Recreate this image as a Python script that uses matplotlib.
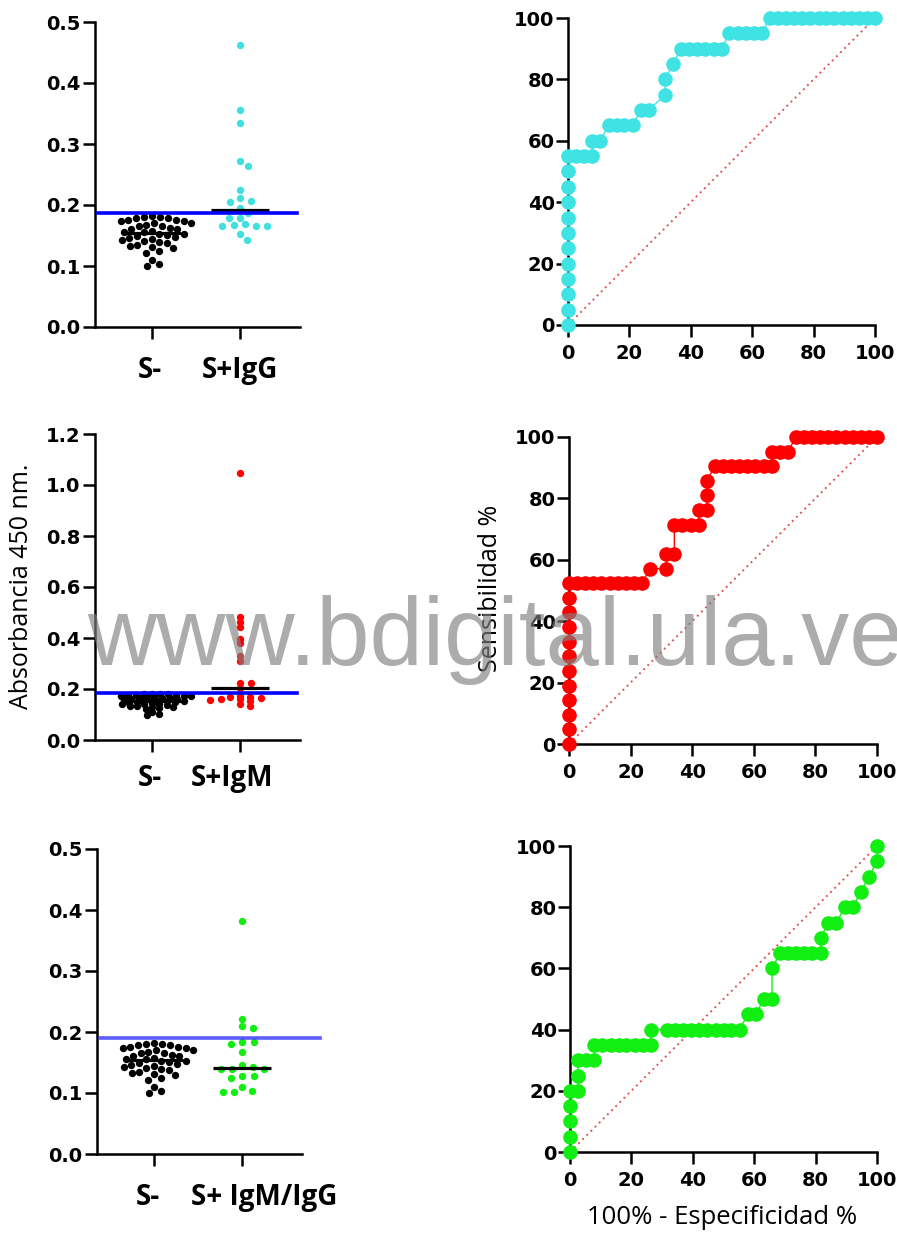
import numpy as np
import matplotlib
matplotlib.use('Agg')
import matplotlib.pyplot as plt

# ---------------- data ----------------
neg_values = [0.100, 0.103, 0.110, 0.122, 0.125, 0.130, 0.131, 0.133, 0.135, 0.138,
              0.140, 0.141, 0.143, 0.145, 0.146, 0.148, 0.150, 0.151, 0.152, 0.153,
              0.155, 0.156, 0.158, 0.160, 0.161, 0.163, 0.165, 0.166, 0.168, 0.170,
              0.171, 0.173, 0.174, 0.175, 0.176, 0.178, 0.179, 0.180, 0.181, 0.182]
igg_values = [0.463, 0.356, 0.334, 0.272, 0.264, 0.225, 0.211, 0.205, 0.207, 0.195,
              0.187, 0.179, 0.178, 0.166, 0.169, 0.166, 0.167, 0.166, 0.152, 0.143]
igm_values = [1.046, 0.484, 0.461, 0.444, 0.396, 0.382, 0.331, 0.310, 0.225, 0.222,
              0.203, 0.172, 0.167, 0.167, 0.163, 0.160, 0.160, 0.157, 0.154, 0.140, 0.135]
igmg_values = [0.382, 0.222, 0.210, 0.207, 0.184, 0.181, 0.184, 0.168, 0.146, 0.143,
               0.139, 0.140, 0.140, 0.125, 0.128, 0.128, 0.110, 0.101, 0.102, 0.104]
cutoffs = [0.187, 0.186, 0.190]
cat_labels = [['S-', 'S+IgG'], ['S-', 'S+IgM'], ['S-', 'S+ IgM/IgG']]

roc1_x = [0] * 12 + [2.6, 5.3, 7.9, 7.9, 10.5, 13.2, 15.8, 18.4, 21.1, 23.7, 26.3,
                     31.6, 31.6, 34.2, 36.8, 39.5, 42.1, 44.7, 47.4, 50.0,
                     52.6, 55.3, 57.9, 60.5, 63.2,
                     65.8, 68.4, 71.1, 73.7, 76.3, 78.9, 81.6, 84.2, 86.8, 89.5, 92.1, 94.7, 97.4, 100]
roc1_y = [0, 5, 10, 15, 20, 25, 30, 35, 40, 45, 50, 55,
          55, 55, 55, 60, 60, 65, 65, 65, 65, 70, 70,
          75, 80, 85, 90, 90, 90, 90, 90, 90,
          95, 95, 95, 95, 95,
          100, 100, 100, 100, 100, 100, 100, 100, 100, 100, 100, 100, 100, 100]

roc2_x = [0] * 12 + [2.6, 5.3, 7.9, 10.5, 13.2, 15.8, 18.4, 21.1, 23.7,
                     26.3, 31.6, 31.6, 34.2, 34.2, 36.8, 39.5, 42.1,
                     42.1, 44.7, 44.7, 44.7,
                     47.4, 50.0, 52.6, 55.3, 57.9, 60.5, 63.2, 65.8,
                     65.8, 68.4, 71.1,
                     73.7, 76.3, 78.9, 81.6, 84.2, 86.8, 89.5, 92.1, 94.7, 97.4, 100]
roc2_y = [0, 4.76, 9.52, 14.29, 19.05, 23.81, 28.57, 33.33, 38.10, 42.86, 47.62, 52.38,
          52.38, 52.38, 52.38, 52.38, 52.38, 52.38, 52.38, 52.38, 52.38,
          57.14, 57.14, 61.90, 61.90, 71.43, 71.43, 71.43, 71.43,
          76.19, 76.19, 80.95, 85.71,
          90.48, 90.48, 90.48, 90.48, 90.48, 90.48, 90.48, 90.48,
          95.24, 95.24, 95.24,
          100, 100, 100, 100, 100, 100, 100, 100, 100, 100, 100]

roc3_x = [0, 0, 0, 0, 0, 2.6, 2.6, 2.6, 5.3, 7.9, 7.9, 10.5, 13.2, 15.8, 18.4, 21.1, 23.7, 26.3,
          26.3, 31.6, 34.2, 36.8, 39.5, 42.1, 44.7, 47.4, 50.0, 52.6, 55.3,
          57.9, 60.5, 63.2, 65.8, 65.8,
          68.4, 71.1, 73.7, 76.3, 78.9, 81.6, 81.6, 84.2, 86.8, 89.5, 92.1, 94.7, 97.4, 100, 100]
roc3_y = [0, 5, 10, 15, 20, 20, 25, 30, 30, 30, 35, 35, 35, 35, 35, 35, 35, 35,
          40, 40, 40, 40, 40, 40, 40, 40, 40, 40, 40,
          45, 45, 50, 50, 60,
          65, 65, 65, 65, 65, 65, 70, 75, 75, 80, 80, 85, 90, 95, 100]

# ---------------- style ----------------
plt.rcParams['font.family'] = ['DejaVu Sans']
W, H = 897, 1233
fig = plt.figure(figsize=(W / 100, H / 100), dpi=100)

SPINE_W = 1.8
TICK_L = 8.6


def swarm(vals, ppu_x, dx_px, dy_data):
    vals = np.asarray(vals, float)
    order = np.argsort(vals)[::-1]
    placed = []
    offs = np.zeros(len(vals))
    for i in order:
        y = vals[i]
        cands = [0.0]
        for (px, py) in placed:
            r = (y - py) / dy_data
            if abs(r) < 1:
                d = dx_px * np.sqrt(1 - r * r)
                cands += [px + d, px - d]
        cands = sorted(cands, key=lambda c: (abs(c), -c))
        chosen = 0.0
        for c in cands:
            ok = True
            for (px, py) in placed:
                if ((c - px) / dx_px) ** 2 + ((y - py) / dy_data) ** 2 < 1 - 1e-6:
                    ok = False
                    break
            if ok:
                chosen = c
                break
        placed.append((chosen, y))
        offs[i] = chosen
    return offs / ppu_x


def style_axes(ax):
    for s in ['top', 'right']:
        ax.spines[s].set_visible(False)
    for s in ['left', 'bottom']:
        ax.spines[s].set_linewidth(SPINE_W)
    ax.tick_params(direction='out', length=TICK_L, width=SPINE_W, labelsize=14)
    for lab in ax.get_xticklabels() + ax.get_yticklabels():
        lab.set_fontweight('bold')


def dotplot(px_box, neg, pos, color, ymax, ystep, cutoff, cut_color, cut_alpha,
            cut_xmax, labels, label_x, label_off):
    x0, x1, ytop, ybot = px_box
    ax = fig.add_axes([x0 / W, 1 - ybot / H, (x1 - x0) / W, (ybot - ytop) / H])
    ppu_x = 88.0
    ax.set_xlim(-(0.648), (x1 - x0) / ppu_x - 0.648)
    ax.set_ylim(0, ymax)
    xn = 0 + swarm(neg, ppu_x, 8.0, 0.0125)
    xp = 1 + swarm(pos, ppu_x, 11.5, 0.0110)
    ax.scatter(xn, neg, s=28, color='black', lw=0, zorder=2, clip_on=False)
    ax.scatter(xp, pos, s=28, color=color, lw=0, zorder=2, clip_on=False)
    for k, vals in enumerate([neg, pos]):
        m = np.median(vals)
        ax.plot([k - 0.33, k + 0.33], [m, m], color='black', lw=2.3, zorder=3,
                solid_capstyle='butt')
    ax.axhline(cutoff, xmin=0.015, xmax=cut_xmax, color=cut_color, alpha=cut_alpha,
               lw=2.6, zorder=4, clip_on=False)
    ax.set_xticks([0, 1])
    ax.set_xticklabels(['', ''])
    yt = np.round(np.arange(0, ymax + 1e-9, ystep), 2)
    ax.set_yticks(yt)
    ax.set_yticklabels(['%.1f' % v for v in yt])
    style_axes(ax)
    ax.tick_params(axis='y', pad=2)
    for lab, lx in zip(labels, label_x):
        ax.annotate(lab, xy=(lx, 0), xycoords=('data', 'axes fraction'),
                    xytext=(0, -label_off), textcoords='offset points',
                    ha='center', va='center', fontsize=20, fontweight='bold',
                    family='Open Sans')
    return ax


def rocplot(px_box, xs, ys, color):
    x0, x1, ytop, ybot = px_box
    ax = fig.add_axes([x0 / W, 1 - ybot / H, (x1 - x0) / W, (ybot - ytop) / H])
    ax.plot([0, 100], [0, 100], ls=(0, (1, 2)), color='#e05555', lw=1.4, zorder=1)
    ax.plot(xs, ys, '-', color=color, lw=1.0, zorder=2, clip_on=False)
    ax.plot(xs, ys, 'o', ms=10.5, color=color, mec='none', zorder=3, clip_on=False)
    ax.set_xlim(0, 100)
    ax.set_ylim(0, 100)
    ax.set_xticks(range(0, 101, 20))
    ax.set_yticks(range(0, 101, 20))
    style_axes(ax)
    ax.tick_params(axis='x', pad=5)
    ax.tick_params(axis='y', pad=1)
    return ax


dotplot((95, 300, 22, 327), neg_values, igg_values, '#40e0e0', 0.5, 0.1,
        cutoffs[0], '#0000ff', 1.0, 0.985, cat_labels[0], [-0.02, 1.0], 31)
dotplot((95, 300, 434, 740), neg_values, igm_values, '#ff0000', 1.2, 0.2,
        cutoffs[1], '#0000ff', 1.0, 0.985, cat_labels[1], [-0.03, 0.91], 28)
dotplot((97, 302, 849, 1154), neg_values, igmg_values, '#11ee11', 0.5, 0.1,
        cutoffs[2], '#3333ff', 0.8, 1.088, cat_labels[2], [-0.07, 1.25], 31)

rocplot((568, 875, 18, 325), roc1_x, roc1_y, '#40e3e3')
rocplot((569, 877, 437, 744), roc2_x, roc2_y, '#ff0000')
rocplot((570, 877, 846, 1152), roc3_x, roc3_y, '#11ee11')

fig.text(22 / W, 1 - 586 / H, 'Absorbancia 450 nm.', rotation=90, ha='center',
         va='center', fontsize=18, family='Open Sans')
fig.text(490 / W, 1 - 588 / H, 'Sensibilidad %', rotation=90, ha='center',
         va='center', fontsize=18, family='Open Sans')
fig.text(722 / W, 1 - 1217 / H, '100% - Especificidad %', ha='center',
         va='center', fontsize=18.5, family='Open Sans')

fig.text(87 / W, 1 - 665 / H, 'www.bdigital.ula.ve', fontsize=69,
         family='Liberation Sans', color='#808080', alpha=0.65,
         ha='left', va='baseline', zorder=10)

fig.savefig('out.png', dpi=100, facecolor='white')
